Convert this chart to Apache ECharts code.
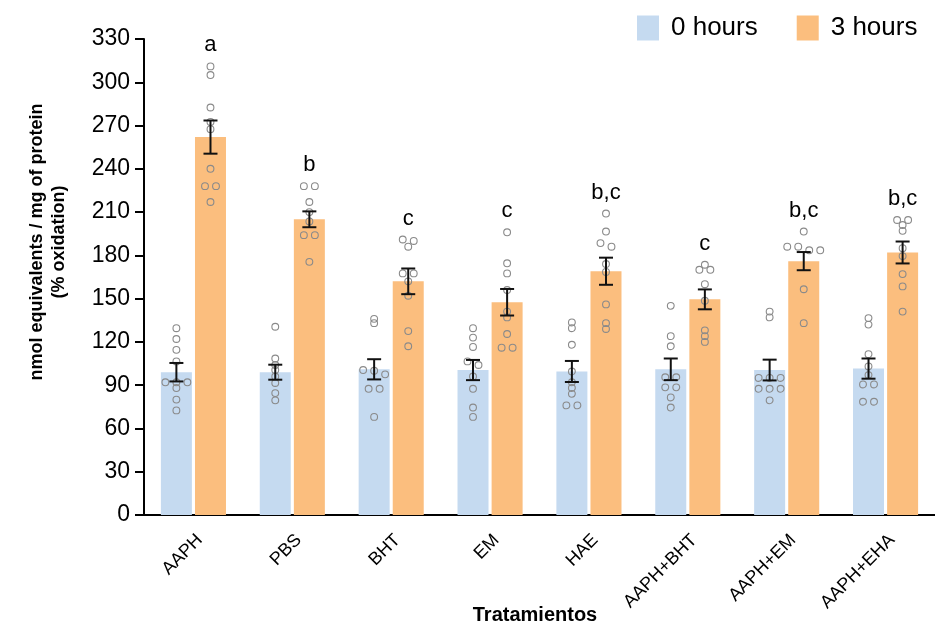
<!DOCTYPE html>
<html><head><meta charset="utf-8">
<script src="https://cdn.jsdelivr.net/npm/echarts@6/dist/echarts.min.js"></script>
<style>html,body{margin:0;padding:0;background:#fff}#c{width:935px;height:626px}</style>
</head><body><div id="c"></div>
<script>
// ---------------- data ----------------
const categories = ['AAPH', 'PBS', 'BHT', 'EM', 'HAE', 'AAPH+BHT', 'AAPH+EM', 'AAPH+EHA'];
const seriesNames = ['0 hours', '3 hours'];
const mean0 = [99, 99, 101, 100.5, 99.5, 101, 100.5, 101.5];
const sem0  = [6.4, 5.2, 7.0, 7.0, 7.3, 7.5, 7.2, 7.0];
const mean3 = [262, 205, 162, 147.5, 169, 149.5, 176, 182];
const sem3  = [11.5, 5.5, 8.9, 9.2, 9.4, 6.9, 6.3, 7.6];
const dots0 = [
  [129.5, 122, 114.5, 106.5, 92, 92, 92, 88, 80, 72.5],
  [130.5, 108.5, 104, 100.5, 96, 91.5, 84.5, 79.5],
  [136, 133, 100.5, 100, 97.5, 87.5, 87.5, 68],
  [129.5, 123, 116.5, 106.5, 104, 96, 87.5, 74.5, 68],
  [133.5, 129.5, 118, 99.5, 92, 88, 84, 76, 76],
  [145, 124, 117, 95.5, 95.5, 88.5, 88.5, 81.5, 74.5],
  [141, 137, 95, 95, 95, 87.5, 87.5, 87.5, 79.5],
  [136.5, 132, 111.5, 103, 97, 90.5, 90.5, 78.5, 78.5]
];
const dots3 = [
  [311, 305, 282.5, 272.5, 267.5, 240, 228, 228, 217],
  [228, 228, 217, 210, 203.5, 194, 194, 175.5],
  [191, 190, 186, 167.5, 167.5, 162, 152, 127.5, 117],
  [196, 174.5, 167.5, 156, 141, 137, 125.5, 116, 116],
  [209, 196.5, 188.5, 186, 174, 168.5, 146, 133, 129],
  [173.5, 170, 170, 160, 148.5, 128, 124, 120],
  [196.5, 186, 186, 183.5, 183.5, 156.5, 133],
  [204.5, 204.5, 201, 197, 185, 179.5, 167, 158.5, 141]
];
const letters = ['a', 'b', 'c', 'c', 'b,c', 'c', 'b,c', 'b,c'];
const yMin = 0, yMax = 330, yStep = 30;

// ---------------- styling / layout ----------------
const FONT = '"Liberation Sans", Arial, Helvetica, sans-serif';
const BLUE = '#c5daf0', ORANGE = '#fbbe7e';
const BAR_W = 31, BAR_GAP = 0.1;
const HALF = BAR_W * (1 + BAR_GAP) / 2;
const ROW_TOL = 2.8;   // values closer than this share a row
const ROW_SP = 11;     // px spacing of dots in a row

function swarm(vals) {
  const s = vals.slice().sort((a, b) => b - a);
  const rows = [];
  s.forEach(v => {
    const last = rows[rows.length - 1];
    if (last && Math.abs(last[last.length - 1] - v) <= ROW_TOL) last.push(v);
    else rows.push([v]);
  });
  const out = [];
  rows.forEach(r => r.forEach((v, k) => out.push([v, (k - (r.length - 1) / 2) * ROW_SP])));
  return out;
}

const dotData = [];
[dots0, dots3].forEach((set, si) => {
  set.forEach((vals, i) => {
    swarm(vals).forEach(([v, off]) => dotData.push([i, v, si === 0 ? -1 : 1, off]));
  });
});
const errData = [];
categories.forEach((c, i) => {
  errData.push([i, mean0[i], sem0[i], -1]);
  errData.push([i, mean3[i], sem3[i], 1]);
});
const letterData = categories.map((c, i) => [i, Math.max.apply(null, dots3[i])]);

const chart = echarts.init(document.getElementById('c'), null, { renderer: 'canvas' });
chart.setOption({
  animation: false,
  textStyle: { fontFamily: FONT },
  grid: { left: 144, top: 39, width: 800, height: 476 },
  legend: {
    data: seriesNames, left: 632, top: 10, icon: 'rect',
    itemWidth: 22, itemHeight: 25, itemGap: 39,
    textStyle: { fontSize: 26, color: '#000', fontFamily: FONT, padding: [0, 0, 0, 7] }
  },
  xAxis: {
    type: 'category', data: categories,
    axisLine: { lineStyle: { color: '#000', width: 2 } },
    axisTick: { alignWithLabel: true, length: 7, lineStyle: { width: 2, color: '#000' } },
    axisLabel: { rotate: 45, interval: 0, fontSize: 18, color: '#000', margin: 16, verticalAlign: 'top', fontFamily: FONT }
  },
  yAxis: {
    type: 'value', min: yMin, max: yMax, interval: yStep,
    axisLine: { show: true, lineStyle: { color: '#000', width: 2 } },
    axisTick: { show: true, length: 9, lineStyle: { width: 2, color: '#000' } },
    axisLabel: { fontSize: 23, color: '#000', margin: 14, fontFamily: FONT },
    splitLine: { show: false }
  },
  series: [
    { name: seriesNames[0], type: 'bar', data: mean0, barWidth: BAR_W, barGap: (BAR_GAP * 100) + '%', itemStyle: { color: BLUE }, z: 2 },
    { name: seriesNames[1], type: 'bar', data: mean3, barWidth: BAR_W, itemStyle: { color: ORANGE }, z: 2 },
    {
      type: 'custom', data: dotData, z: 3, encode: { x: 0, y: 1 },
      renderItem(params, api) {
        const p = api.coord([api.value(0), api.value(1)]);
        return { type: 'circle', shape: { cx: p[0] + api.value(2) * HALF + api.value(3), cy: p[1], r: 3.4 },
          style: { fill: 'none', stroke: '#8a8a8a', lineWidth: 1.1 } };
      }
    },
    {
      type: 'custom', data: errData, z: 4, encode: { x: 0, y: 1 },
      renderItem(params, api) {
        const i = api.value(0), m = api.value(1), e = api.value(2), side = api.value(3);
        const x = api.coord([i, m])[0] + side * HALF;
        const yt = api.coord([i, m + e])[1], yb = api.coord([i, m - e])[1];
        const st = { stroke: '#111', lineWidth: 2 };
        return { type: 'group', children: [
          { type: 'line', shape: { x1: x, y1: yt, x2: x, y2: yb }, style: st },
          { type: 'line', shape: { x1: x - 7, y1: yt, x2: x + 7, y2: yt }, style: st },
          { type: 'line', shape: { x1: x - 7, y1: yb, x2: x + 7, y2: yb }, style: st }
        ] };
      }
    },
    {
      type: 'custom', data: letterData, z: 5, encode: { x: 0, y: 1 },
      renderItem(params, api) {
        const i = api.value(0);
        const p = api.coord([i, api.value(1)]);
        return { type: 'text', x: p[0] + HALF, y: p[1] - 21,
          style: { text: letters[i], font: '22px ' + FONT, fill: '#000', align: 'center', verticalAlign: 'middle' } };
      }
    }
  ],
  graphic: [
    { type: 'text', x: 48, y: 242, rotation: Math.PI / 2,
      style: { text: 'nmol equivalents / mg of protein\n(% oxidation)', font: 'bold 18px ' + FONT, lineHeight: 22,
        fill: '#000', align: 'center', verticalAlign: 'middle' } },
    { type: 'text', x: 535, y: 615,
      style: { text: 'Tratamientos', font: 'bold 20px ' + FONT, fill: '#000', align: 'center', verticalAlign: 'middle' } }
  ]
});
</script></body></html>
